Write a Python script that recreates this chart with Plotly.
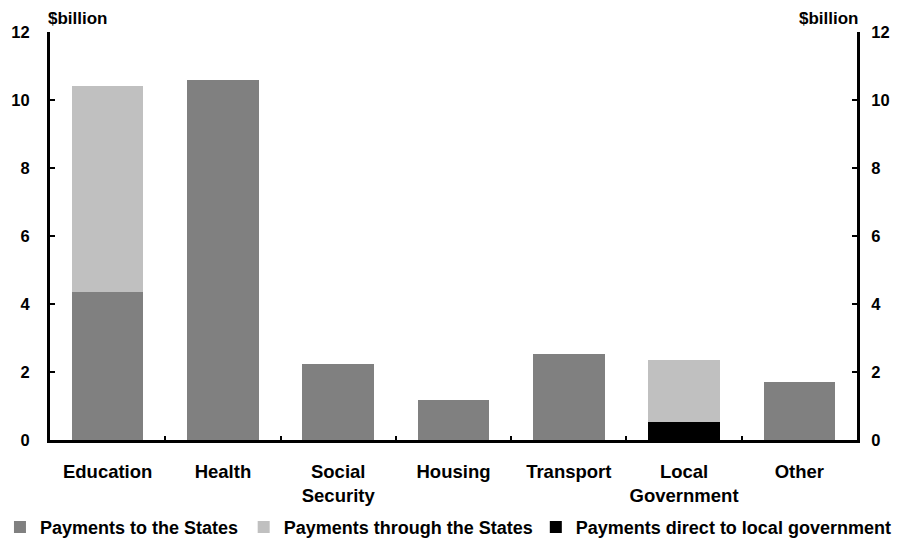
import plotly.graph_objects as go

categories = ["Education", "Health", "Social<br>Security", "Housing", "Transport", "Local<br>Government", "Other"]
to_states = [4.35, 10.6, 2.24, 1.18, 2.53, 0, 1.71]
through_states = [6.07, 0, 0, 0, 0, 1.81, 0]
direct_local = [0, 0, 0, 0, 0, 0.54, 0]
y_ticks = [0, 2, 4, 6, 8, 10, 12]

FAM = "Liberation Sans, Arial, sans-serif"
xfont = dict(family=FAM, size=18.5, color="black", weight="bold")
yfont = dict(family=FAM, size=16.5, color="black", weight="bold")
lfont = dict(family=FAM, size=18, color="black", weight="bold")

fig = go.Figure()
fig.add_trace(go.Bar(x=categories, y=to_states, name="Payments to the States",
                     marker=dict(color="#808080", line=dict(width=0)), legend="legend"))
fig.add_trace(go.Bar(x=categories, y=direct_local, name="Payments direct to local government",
                     marker=dict(color="#000000", line=dict(width=0)), legend="legend3"))
fig.add_trace(go.Bar(x=categories, y=through_states, name="Payments through the States",
                     marker=dict(color="#c0c0c0", line=dict(width=0)), legend="legend2"))
fig.add_trace(go.Scatter(x=[categories[0]], y=[None], yaxis="y2", showlegend=False, hoverinfo="skip"))

leg_common = dict(orientation="h", xanchor="left", y=-0.214, yanchor="middle", font=lfont,
                  itemwidth=30, bgcolor="rgba(0,0,0,0)")

fig.update_layout(
    width=884, height=532,
    barmode="stack", bargap=0.38,
    plot_bgcolor="white", paper_bgcolor="white",
    font=xfont,
    margin=dict(l=42, r=35, t=24, b=100, autoexpand=False),
    xaxis=dict(showline=True, linecolor="black", linewidth=3, ticks="inside", tickson="boundaries",
               ticklen=4, tickwidth=2, tickcolor="black", tickfont=xfont, showgrid=False,
               ticklabelstandoff=13, tickangle=0),
    yaxis=dict(range=[0, 12], tickvals=y_ticks, showline=True, linecolor="black", linewidth=3,
               ticks="inside", ticklen=5, tickwidth=2, tickcolor="black", showgrid=False,
               zeroline=False, tickfont=yfont, ticklabelstandoff=14),
    yaxis2=dict(range=[0, 12], tickvals=y_ticks, overlaying="y", side="right", showline=True,
                linecolor="black", linewidth=3, ticks="inside", ticklen=5, tickwidth=2,
                tickcolor="black", showgrid=False, zeroline=False, tickfont=yfont, ticklabelstandoff=8),
    legend=dict(x=-0.062, **leg_common),
    legend2=dict(x=0.240, **leg_common),
    legend3=dict(x=0.602, **leg_common),
    showlegend=True,
)
fig.add_annotation(text="$billion", xref="paper", yref="paper", x=-0.005, y=1, xanchor="left", yanchor="bottom",
                   showarrow=False, font=dict(family=FAM, size=17, color="black", weight="bold"), yshift=2)
fig.add_annotation(text="$billion", xref="paper", yref="paper", x=1.005, y=1, xanchor="right", yanchor="bottom",
                   showarrow=False, font=dict(family=FAM, size=17, color="black", weight="bold"), yshift=2)

fig.write_html("out.html")
